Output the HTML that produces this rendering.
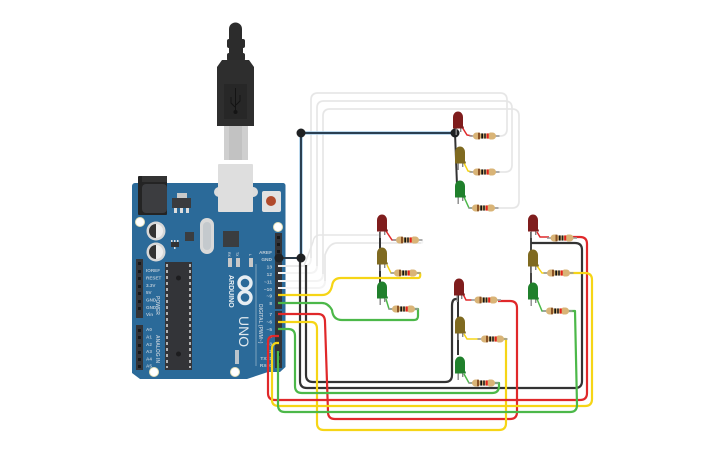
<!DOCTYPE html>
<html><head><meta charset="utf-8"><style>
html,body{margin:0;padding:0;background:#fff}
svg{display:block}
text{font-family:"Liberation Sans",sans-serif}
.w{fill:none;stroke-width:2.2;stroke-linejoin:round}
.g{fill:none;stroke:#e6e6e6;stroke-width:1.5}
.wh{fill:none;stroke:#f4f4f4;stroke-width:2}
.pl{font-size:4.8px;fill:#bccad5;text-anchor:end;font-weight:bold}
.ll{font-size:4.6px;fill:#b5c6d4;font-weight:bold}
</style></head><body>
<svg width="725" height="453" viewBox="0 0 725 453" xmlns="http://www.w3.org/2000/svg">
<defs>
<g id="res">
<rect x="-15" y="-.8" width="30" height="1.6" fill="#9a9a9a"/>
<path d="M-8 -3.500h2.500l1.500 1h8l1.500 -1h2.500a3.500 3.500 0 0 1 0 7h-2.500l-1.500 -1h-8l-1.500 1h-2.500a3.500 3.500 0 0 1 0 -7z" fill="#d9b477"/>
<rect x="-6.500" y="-3.300" width="2" height="6.600" fill="#8a5226"/>
<rect x="-3.200" y="-2.600" width="1.800" height="5.200" fill="#111"/>
<rect x="-.3" y="-2.600" width="1.600" height="5.200" fill="#222"/>
<rect x="2.200" y="-2.600" width="2" height="5.200" fill="#e3201b"/>
</g>
<g id="led">
<rect x="-2.500" y="6" width="1.400" height="9" fill="#888"/>
<rect x="2" y="6" width="1.400" height="6" fill="#888"/>
</g>
<path id="ledb" d="M-5 8V-3a5 5.500 0 0 1 10 0V6.500h.8V8.500H-5z"/>
</defs>

<!-- Arduino board -->
<path d="M135 183H283a2.500 2.500 0 0 1 2.500 2.500V367L280 372H268L247 379H140L132 373V186a3 3 0 0 1 3-3z" fill="#2b6a99"/>
<!-- jack -->
<rect x="138" y="176" width="29" height="39" rx="1" fill="#242424"/>
<rect x="142" y="176" width="25" height="6" fill="#333"/>
<rect x="142" y="184" width="25" height="29" rx="4" fill="#3c3d40"/>
<!-- regulator -->
<rect x="177" y="193" width="10" height="6" fill="#c9c9c9"/>
<rect x="172" y="198" width="19" height="10" fill="#3a3b3e"/>
<rect x="174" y="208" width="3" height="5" fill="#ddd"/><rect x="180" y="208" width="3" height="5" fill="#ddd"/><rect x="186" y="208" width="3" height="5" fill="#ddd"/>
<!-- button -->
<rect x="262" y="191" width="19" height="21" rx="2" fill="#e2e2e2"/>
<circle cx="271" cy="201" r="5" fill="#b04a2c"/>
<!-- holes -->
<circle cx="140" cy="222" r="4.500" fill="#fff" stroke="#e8e2b8"/>
<circle cx="278" cy="227" r="4.500" fill="#fff" stroke="#e8e2b8"/>
<circle cx="154" cy="372" r="4.500" fill="#fff" stroke="#e8e2b8"/>
<circle cx="235" cy="372" r="4.500" fill="#fff" stroke="#e8e2b8"/>
<!-- caps -->
<circle cx="156" cy="231" r="9.500" fill="#d8d8d8"/>
<path d="M156 224a7 7 0 0 0 0 14z" fill="#333"/><path d="M156 224a7 7 0 0 1 0 14z" fill="#eee"/>
<circle cx="156" cy="252" r="9.500" fill="#d8d8d8"/>
<path d="M156 245a7 7 0 0 0 0 14z" fill="#333"/><path d="M156 245a7 7 0 0 1 0 14z" fill="#eee"/>
<!-- crystal -->
<rect x="200" y="218" width="14" height="36" rx="7" fill="#d9d9d9"/>
<rect x="203" y="222" width="8" height="28" rx="4" fill="#c4c9cd"/>
<!-- chips -->
<rect x="185" y="232" width="9" height="9" fill="#3a3d40"/>
<rect x="223" y="231" width="16" height="16" fill="#3a3d40"/>
<rect x="171" y="242" width="8" height="5" fill="#333"/>
<rect x="171" y="240" width="1.500" height="2" fill="#ddd"/><rect x="174" y="240" width="1.500" height="2" fill="#ddd"/><rect x="177" y="240" width="1.500" height="2" fill="#ddd"/>
<rect x="174" y="247" width="1.500" height="2" fill="#ddd"/>
<rect x="165" y="262" width="27" height="108" fill="#333438"/>
<line x1="167" y1="264" x2="167" y2="368" stroke="#ddd" stroke-width="1.500" stroke-dasharray="3 3"/>
<line x1="190" y1="264" x2="190" y2="368" stroke="#ddd" stroke-width="1.500" stroke-dasharray="3 3"/>
<circle cx="178.500" cy="278" r="2.500" fill="#1d1d1f"/><circle cx="178.500" cy="354" r="2.500" fill="#1d1d1f"/>
<!-- LEDs small on board -->
<rect x="228" y="258" width="4" height="9" fill="#c8c8c8"/><rect x="236" y="258" width="4" height="9" fill="#c8c8c8"/><rect x="249" y="258" width="4" height="9" fill="#c8c8c8"/>
<rect x="235" y="350" width="4" height="14" fill="#b9c4cc"/>
<text class="ll" transform="translate(228,252) rotate(90)" style="font-size:3.500px">RX</text>
<text class="ll" transform="translate(236,252) rotate(90)" style="font-size:3.500px">TX</text>
<text class="ll" transform="translate(249,254) rotate(90)" style="font-size:3.500px">L</text>
<!-- logo -->
<g fill="none" stroke="#e6edf2" stroke-width="3.400"><circle cx="245" cy="283" r="6"/><circle cx="245" cy="297.500" r="6"/></g>
<text transform="translate(229,275) rotate(90)" style="font-size:7px;font-weight:bold" fill="#e6edf2">ARDUINO</text>
<text transform="translate(239,316) rotate(90)" style="font-size:14px" fill="#dfe8ee">UNO</text>
<!-- labels -->
<text class="pl" x="272" y="254">AREF</text><text class="pl" x="272" y="261">GND</text><text class="pl" x="272" y="268.500">13</text><text class="pl" x="272" y="276">12</text><text class="pl" x="272" y="283.500">~11</text><text class="pl" x="272" y="291">~10</text><text class="pl" x="272" y="297.500">~9</text><text class="pl" x="272" y="305">8</text><text class="pl" x="272" y="316">7</text><text class="pl" x="272" y="323.500">~6</text><text class="pl" x="272" y="331">~5</text><text class="pl" x="272" y="338">4</text><text class="pl" x="272" y="345.500">~3</text><text class="pl" x="272" y="353">2</text><text class="pl" x="272" y="360">TX&gt;1</text><text class="pl" x="272" y="367">RX&lt;0</text>
<text class="ll" x="146" y="272">IOREF</text><text class="ll" x="146" y="279.500">RESET</text><text class="ll" x="146" y="287">3.3V</text><text class="ll" x="146" y="294">5V</text><text class="ll" x="146" y="301.500">GND</text><text class="ll" x="146" y="309">GND</text><text class="ll" x="146" y="316">Vin</text>
<text class="ll" x="146" y="331">A0</text><text class="ll" x="146" y="338.500">A1</text><text class="ll" x="146" y="346">A2</text><text class="ll" x="146" y="353">A3</text><text class="ll" x="146" y="360.500">A4</text><text class="ll" x="146" y="367.500">A5</text>
<text class="ll" transform="translate(156,296) rotate(90)" style="font-size:5px">POWER</text>
<text class="ll" transform="translate(156,335) rotate(90)" style="font-size:5px">ANALOG IN</text>
<text class="ll" transform="translate(259,304) rotate(90)" style="font-size:5px">DIGITAL (PWM~)</text>
<line x1="256" y1="264" x2="256" y2="366" stroke="#9fb9cc" stroke-width=".7"/>
<!-- headers -->
<rect x="136" y="259" width="7" height="59" fill="#333438"/>
<rect x="136" y="325" width="7" height="45" fill="#333438"/>
<rect x="275" y="233" width="7" height="76" fill="#333438"/>
<rect x="275" y="311" width="7" height="57" fill="#333438"/>
<g fill="#17181a"><rect x="138" y="262" width="3" height="3"/><rect x="138" y="270" width="3" height="3"/><rect x="138" y="277" width="3" height="3"/><rect x="138" y="285" width="3" height="3"/><rect x="138" y="292" width="3" height="3"/><rect x="138" y="300" width="3" height="3"/><rect x="138" y="307" width="3" height="3"/><rect x="138" y="329" width="3" height="3"/><rect x="138" y="336" width="3" height="3"/><rect x="138" y="344" width="3" height="3"/><rect x="138" y="351" width="3" height="3"/><rect x="138" y="358" width="3" height="3"/><rect x="138" y="365" width="3" height="3"/><rect x="277" y="236" width="3" height="3"/><rect x="277" y="243" width="3" height="3"/><rect x="277" y="250" width="3" height="3"/><rect x="277" y="353" width="3" height="3"/><rect x="277" y="360" width="3" height="3"/></g>

<!-- USB -->
<rect x="214" y="187" width="44" height="10" rx="5" fill="#dcdcdc"/>
<rect x="218" y="164" width="35" height="48" rx="1" fill="#dedede"/>
<rect x="224" y="126" width="24" height="34" fill="#cfcfcf"/>
<rect x="229" y="126" width="13" height="34" fill="#c2c2c2"/>
<path d="M229 40V29a6.500 6.500 0 0 1 13 0V40z" fill="#2c2c2c"/>
<rect x="227" y="39" width="18" height="9" rx="2" fill="#2c2c2c"/>
<rect x="229" y="47" width="14" height="7" fill="#2c2c2c"/>
<rect x="227" y="53" width="18" height="8" rx="2" fill="#2c2c2c"/>
<path d="M222 60H249L254 67V126H217V67z" fill="#2e2e2e"/>
<rect x="224" y="84" width="23" height="35" fill="#272727"/>
<g stroke="#141414" fill="none" stroke-width="1"><line x1="235.500" y1="88" x2="235.500" y2="112"/><path d="M231 97V103L235 107M240 95V101L236 105"/></g>
<circle cx="235.500" cy="112" r="2" fill="#141414"/>

<!-- Grey wires -->
<path class="wh" d="M278 266H304Q311 266 311 258V100Q311 93 318 93H500Q507 93 507 100V129Q507 136 500 136H495"/>
<path class="wh" d="M278 273H310Q317 273 317 266V108Q317 101 324 101H505Q512 101 512 108V165Q512 172 505 172H495"/>
<path class="wh" d="M278 281H316Q323 281 323 274V116Q323 109 330 109H512Q519 109 519 116V201Q519 208 512 208H495"/>
<path class="wh" d="M278 288H318Q325 288 325 281V255Q329 243 337 243H421Q423 243 422 241"/>
<path class="g" d="M278 266H304L313 242Q314 235 320 235H380"/>
<path class="g" d="M311 258V100Q311 93 318 93H500Q507 93 507 100V129Q507 136 500 136H495"/>
<path class="g" d="M317 266V108Q317 101 324 101H505Q512 101 512 108V165Q512 172 505 172H495"/>
<path class="g" d="M323 274V116Q323 109 330 109H512Q519 109 519 116V201Q519 208 512 208H495"/>
<path class="g" d="M325 281V255Q329 243 337 243H421"/>

<!-- Black bus -->
<path d="M301 258V133H455" fill="none" stroke="#a9cde8" stroke-width="3.500"/>
<path d="M301 258V133H455" fill="none" stroke="#2a3f52" stroke-width="2"/>
<path d="M279 258H301" stroke="#2a3a48" stroke-width="2"/>
<path d="M455 133L457 185" stroke="#333" stroke-width="2" fill="none"/>
<path d="M380 232V296" stroke="#333" stroke-width="2" fill="none"/>
<path d="M458 292V355" stroke="#333" stroke-width="2"/>
<path d="M531 232V290" stroke="#444" stroke-width="2"/>
<path class="w" stroke="#333" d="M300 258V381Q300 388 307 388H575Q582 388 582 381V250Q582 243 575 243H531"/>
<path class="w" stroke="#333" d="M306 265V375Q306 382 313 382H445Q452 382 452 375V306Q452 299 456 299H458"/>

<!-- Coloured wires -->
<path class="w" stroke="#e0282a" d="M278 314H318Q325 314 325 322L328 412Q328 419 335 419H510Q517 419 517 412V308Q517 301 510 301H498"/>
<path class="w" stroke="#f6d516" d="M278 322H311Q317 322 317 329V423Q317 430 324 430H499Q506 430 506 423V339H498"/>
<path class="w" stroke="#4cb849" d="M278 329H288Q295 329 295 336V386Q295 393 302 393H492Q499 393 499 386V383H494"/>
<path class="w" stroke="#e0282a" d="M279 336H274Q268 336 268 342V393Q268 400 275 400H580Q587 400 587 393V244Q587 237 580 237H570"/>
<path class="w" stroke="#f6d516" d="M279 343H276Q272 344 272 349V400Q272 406 279 406H585Q592 406 592 399V280Q592 273 585 273H570"/>
<path class="w" stroke="#4cb849" d="M278 351V405Q278 412 285 412H570Q577 412 577 405L575 311H566"/>
<path class="w" stroke="#f6d516" d="M278 295H322Q330 295 332 286Q333 278 341 278H418Q421 278 420 273H412"/>
<path class="w" stroke="#4cb849" d="M278 303H322Q328 303 332 310Q333 320 342 320H414Q418 320 418 316V309H412"/>

<!-- junctions -->
<circle cx="279" cy="258" r="4.500" fill="#1f2123"/><circle cx="301" cy="258" r="4.500" fill="#1f2123"/>
<circle cx="301" cy="133" r="4.500" fill="#1f2123"/><circle cx="455" cy="133" r="4.500" fill="#1f2123"/>

<!-- Group 1 -->
<path d="M462 127L467 135L472 136" stroke="#e0282a" fill="none" stroke-width="1.500"/>
<path d="M464 163L468 171L472 172" stroke="#f6d516" fill="none" stroke-width="1.500"/>
<path d="M464 197L469 208H472" stroke="#4cb849" fill="none" stroke-width="1.500"/>
<use href="#led" x="458" y="120"/><use href="#ledb" x="458" y="120" fill="#7f1d1d"/>
<use href="#led" x="460" y="155"/><use href="#ledb" x="460" y="155" fill="#7f6a20"/>
<use href="#led" x="460" y="189"/><use href="#ledb" x="460" y="189" fill="#20802c"/>
<use href="#res" x="484.500" y="136"/><use href="#res" x="484.500" y="172"/><use href="#res" x="483.500" y="208"/>
<!-- Group 2 -->
<path d="M386 231L392 240H396" stroke="#e0282a" fill="none" stroke-width="1.500"/>
<path d="M387 265L391 273H395" stroke="#f6d516" fill="none" stroke-width="1.500"/>
<path d="M386 299L389 309H394" stroke="#4cb849" fill="none" stroke-width="1.500"/>
<use href="#led" x="382" y="223"/><use href="#ledb" x="382" y="223" fill="#7f1d1d"/>
<use href="#led" x="382" y="256"/><use href="#ledb" x="382" y="256" fill="#7f6a20"/>
<use href="#led" x="382" y="290"/><use href="#ledb" x="382" y="290" fill="#20802c"/>
<use href="#res" x="407.500" y="240"/><use href="#res" x="405.500" y="273"/><use href="#res" x="403.500" y="309"/>
<!-- Group 3 -->
<path d="M463 294L466 300H472" stroke="#e0282a" fill="none" stroke-width="1.500"/>
<path d="M464 334L467 339H480" stroke="#f6d516" fill="none" stroke-width="1.500"/>
<path d="M464 374L469 383H474" stroke="#4cb849" fill="none" stroke-width="1.500"/>
<use href="#led" x="459" y="287"/><use href="#ledb" x="459" y="287" fill="#7f1d1d"/>
<use href="#led" x="460" y="325"/><use href="#ledb" x="460" y="325" fill="#7f6a20"/>
<use href="#led" x="460" y="365"/><use href="#ledb" x="460" y="365" fill="#20802c"/>
<use href="#res" x="486" y="300"/><use href="#res" x="492.500" y="339"/><use href="#res" x="483.500" y="383"/>
<!-- Group 4 -->
<path d="M537 232L540 237H549" stroke="#e0282a" fill="none" stroke-width="1.500"/>
<path d="M537 266L542 273H547" stroke="#f6d516" fill="none" stroke-width="1.500"/>
<path d="M537 299L542 311H546" stroke="#4cb849" fill="none" stroke-width="1.500"/>
<use href="#led" x="533" y="223"/><use href="#ledb" x="533" y="223" fill="#7f1d1d"/>
<use href="#led" x="533" y="258"/><use href="#ledb" x="533" y="258" fill="#7f6a20"/>
<use href="#led" x="533" y="291"/><use href="#ledb" x="533" y="291" fill="#20802c"/>
<use href="#res" x="562" y="238"/><use href="#res" x="558.500" y="273"/><use href="#res" x="557.500" y="311"/>
</svg>
</body></html>
